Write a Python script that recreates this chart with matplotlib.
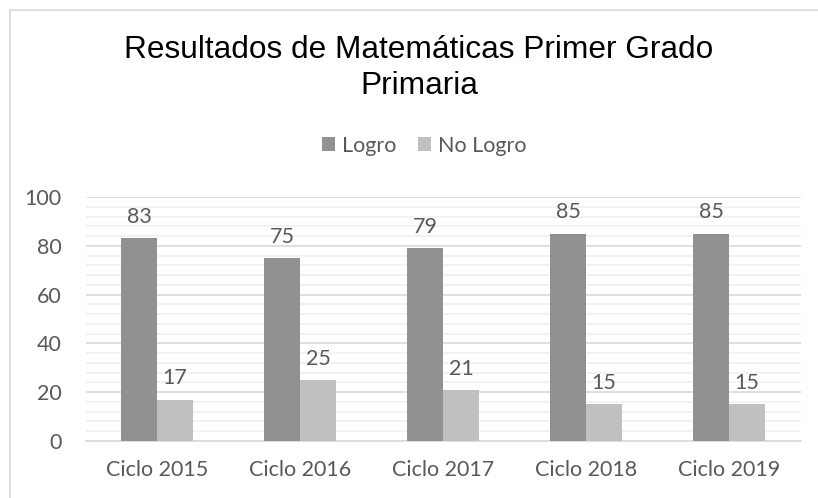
import numpy as np
import matplotlib
matplotlib.use("Agg")
import matplotlib.pyplot as plt
from matplotlib.lines import Line2D
from matplotlib.ticker import MultipleLocator

# ----------------------------
# Data
# ----------------------------
ciclos = ["Ciclo 2015", "Ciclo 2016", "Ciclo 2017", "Ciclo 2018", "Ciclo 2019"]
logro = [83, 75, 79, 85, 85]
no_logro = [17, 25, 21, 15, 15]

TITLE = "Resultados de Matemáticas Primer Grado\nPrimaria"
SERIES = ["Logro", "No Logro"]

# ----------------------------
# Style
# ----------------------------
C_LOGRO = "#919191"
C_NOLOGRO = "#c0c0c0"
C_TEXT = "#595959"
C_MAJOR = "#d9d9d9"
C_MINOR = "#f0f0f0"
TXT_FONT = "Lato"
TXT_SIZE = 15.5

W, H = 818, 498
fig = plt.figure(figsize=(W / 100, H / 100), dpi=100)

# chart frame (left + top border only visible)
fig.add_artist(Line2D([10 / W, 10 / W], [0, 1 - 10 / H], color=C_MAJOR, lw=1.2))
fig.add_artist(Line2D([10 / W, 1], [1 - 10 / H, 1 - 10 / H], color=C_MAJOR, lw=1.2))

ax = fig.add_axes([85.5 / W, 57 / H, 715 / W, 244 / H])

x = np.arange(len(ciclos))
bw = 0.252
b1 = ax.bar(x - bw / 2, logro, bw, color=C_LOGRO, label=SERIES[0], zorder=3)
b2 = ax.bar(x + bw / 2, no_logro, bw, color=C_NOLOGRO, label=SERIES[1], zorder=3)

for bars in (b1, b2):
    for rect in bars:
        ax.annotate(f"{rect.get_height():.0f}",
                    (rect.get_x() + rect.get_width() / 2, rect.get_height()),
                    xytext=(0, 8), textcoords="offset points",
                    ha="center", va="bottom",
                    fontsize=TXT_SIZE, family=TXT_FONT, color=C_TEXT)

ax.set_xlim(-0.5, len(ciclos) - 0.5)
ax.set_ylim(0, 100)
ax.yaxis.set_major_locator(MultipleLocator(20))
ax.yaxis.set_minor_locator(MultipleLocator(4))
ax.grid(axis="y", which="minor", color=C_MINOR, lw=1.2, zorder=0)
ax.grid(axis="y", which="major", color=C_MAJOR, lw=1.2, zorder=1)
ax.set_axisbelow(True)

ax.set_xticks(x)
ax.set_xticklabels(ciclos)
for s in ["top", "right", "left"]:
    ax.spines[s].set_visible(False)
ax.spines["bottom"].set_color(C_MAJOR)
ax.spines["bottom"].set_linewidth(1.2)
ax.tick_params(axis="both", which="both", length=0, colors=C_TEXT,
               labelsize=TXT_SIZE)
ax.tick_params(axis="y", pad=17)
ax.tick_params(axis="x", pad=14)
for lab in ax.get_xticklabels() + ax.get_yticklabels():
    lab.set_family(TXT_FONT)

# title
fig.text(419 / W, 1 - 68 / H, TITLE, ha="center", va="center",
         fontsize=22.8, family="Liberation Sans", color="black",
         linespacing=1.22)

# legend
fig.legend(loc="center", bbox_to_anchor=(424 / W, 1 - 146 / H), ncol=2,
           frameon=False, prop={"family": TXT_FONT, "size": TXT_SIZE},
           labelcolor=C_TEXT, handlelength=0.62, handleheight=0.62,
           handletextpad=0.3, columnspacing=1.0, borderaxespad=0)

fig.savefig("out.png", dpi=100)
